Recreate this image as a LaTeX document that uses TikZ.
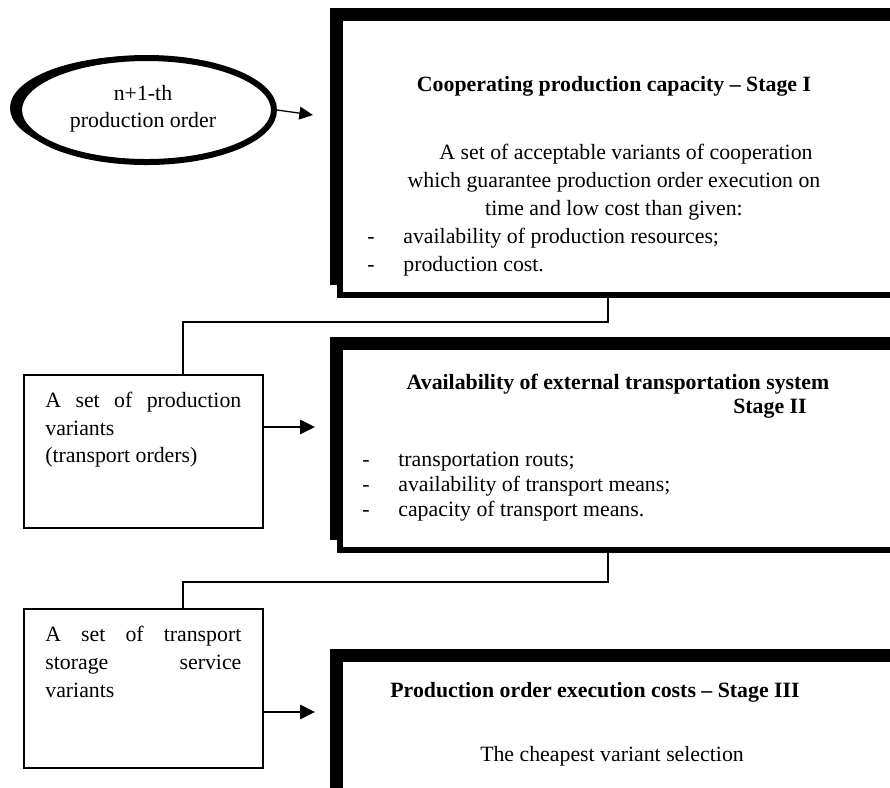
\documentclass[tikz,border=0pt]{standalone}
\usepackage{fontspec}
\setmainfont{Liberation Serif}
\usetikzlibrary{arrows.meta,shapes.geometric,shadows,calc}
\tolerance=10000
\hyphenpenalty=10000
\tikzstyle{stage} = [draw, line width=3.3pt, fill=white, inner sep=0pt, anchor=north west, minimum width=310.75pt, drop shadow={fill=black, opacity=1, shadow xshift=-5.5pt, shadow yshift=5.5pt}]
\tikzstyle{setbox} = [draw, line width=0.9pt, inner sep=0pt, anchor=north west, minimum width=131.45pt]
\tikzstyle{txt} = [inner sep=0pt, font=\fontsize{12}{15.4}\selectfont]
\tikzstyle{headtxt} = [inner sep=0pt, anchor=base, font=\bfseries\fontsize{12}{15.4}\selectfont]
\tikzstyle{link} = [line width=0.85pt]
\tikzstyle{fatarrow} = [line width=1.5pt, -{Triangle[length=8.25pt, width=7.7pt]}]
\tikzstyle{thinarrow} = [line width=0.7pt, -{Triangle[length=7.5pt, width=7pt]}]
\newcommand{\dashitem}{\makebox[19.8pt][l]{-}}

\begin{document}
\begin{tikzpicture}[x=0.55pt, y=-0.55pt]
			\useasboundingbox (0,0) rectangle (890,787);
			\clip (0,0) rectangle (890,787);
			\node (order) at (146.5,110) [ellipse, draw, line width=3.3pt, fill=white, inner sep=0pt, minimum width=140.25pt, minimum height=57.2pt, drop shadow={fill=black, opacity=1, shadow xshift=-4.95pt, shadow yshift=1.1pt}] {};
			\node (ordertxt) at (143,85) [txt, anchor=north, align=center, font=\fontsize{12}{14.85}\selectfont] {
				n+1-th\\production order
			};
			\node (box1) at (337,15) [stage, minimum height=152.35pt] {};
			\node (box2) at (337,344) [stage, minimum height=111.65pt] {};
			\node (box3) at (337,656) [stage, minimum height=77.55pt] {};
			\node (head1) at (614,91) [headtxt] {
				Cooperating production capacity -- Stage I
			};
			\node (para1) at (614,144) [txt, anchor=north, align=center] {
				\hspace*{13.2pt}A set of acceptable variants of cooperation\\which guarantee production order execution on\\time and low cost than given:
			};
			\node (bull1) at (367,228) [txt, anchor=north west, align=left] {
				\dashitem availability of production resources;\\\dashitem production cost.
			};
			\node (head2) at (618,389) [headtxt] {
				Availability of external transportation system
			};
			\node (stage2) at (770,413) [headtxt] {
				Stage II
			};
			\node (bull2) at (362,452) [txt, anchor=north west, align=left, font=\fontsize{12}{13.75}\selectfont] {
				\dashitem transportation routs;\\\dashitem availability of transport means;\\\dashitem capacity of transport means.
			};
			\node (head3) at (595,697) [headtxt] {
				Production order execution costs -- Stage III
			};
			\node (sel3) at (612,761) [txt, anchor=base] {
				The cheapest variant selection
			};
			\node (setA) at (23,374) [setbox, minimum height=84.15pt] {};
			\node (setAtxt) at (45,392) [txt, anchor=north west, text width=107.8pt, align=justify, font=\fontsize{12}{15.1}\selectfont] {
				A set of production variants\\(transport orders)
			};
			\node (setB) at (23,608) [setbox, minimum height=87.45pt] {};
			\node (setBtxt) at (45,626) [txt, anchor=north west, text width=107.8pt, align=justify] {
				A set of transport storage service variants
			};
			\coordinate (tipO) at (313,115);
			\coordinate (tipA) at (315,427);
			\coordinate (tipB) at (315,712);
			\draw[thinarrow] (order.east) -- (tipO);
			\draw[link] ($(box1.south west)+(271,0)$) -- ++(0,24) -| ($(setA.north west)+(160,0)$);
			\draw[link] ($(box2.south west)+(271,0)$) -- ++(0,29) -| ($(setB.north west)+(160,0)$);
			\draw[fatarrow] (setA.east |- tipA) -- (tipA);
			\draw[fatarrow] (setB.east |- tipB) -- (tipB);
			\end{tikzpicture}
\end{document}
